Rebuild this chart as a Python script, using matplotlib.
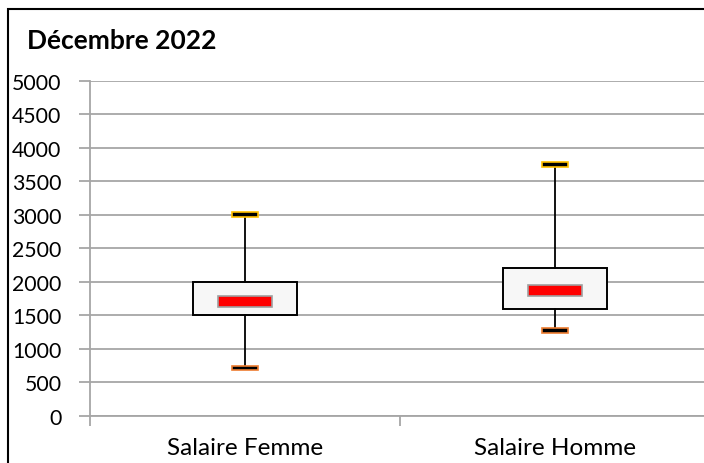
import numpy as np
import matplotlib.pyplot as plt
from matplotlib.patches import Rectangle

plt.rcParams['font.family'] = ['Lato', 'DejaVu Sans']

categories = ['Salaire Femme', 'Salaire Homme']
whislo = [710, 1275]
q1 = [1500, 1600]
med = [1700, 1865]
q3 = [2000, 2200]
whishi = [3000, 3750]
title = 'Décembre 2022'

fig = plt.figure(figsize=(7.04, 4.64), dpi=100)
W, H = 704, 464
ax = fig.add_axes([90 / W, 1 - 416.7 / H, 620 / W, 335 / H])

pos = np.arange(len(categories))
stats = [dict(whislo=a, q1=b, med=c, q3=d, whishi=e)
         for a, b, c, d, e in zip(whislo, q1, med, q3, whishi)]
ax.bxp(stats, positions=pos, widths=0.336, showcaps=False, showfliers=False,
       patch_artist=True,
       boxprops=dict(facecolor='#f7f7f7', edgecolor='black', linewidth=1.4),
       whiskerprops=dict(color='black', linewidth=1.3),
       medianprops=dict(linewidth=0), zorder=3)

# median markers (red bars) and whisker caps
ax.bar(pos, 160, bottom=np.array(med) - 80, width=0.174, color='#ff0000',
       edgecolor='#a0a0a0', linewidth=1.2, zorder=4)
ax.bar(pos, 70, bottom=np.array(whishi) - 35, width=0.087, color='black',
       edgecolor='#ffc000', linewidth=1.2, zorder=4)
ax.bar(pos, 70, bottom=np.array(whislo) - 35, width=0.087, color='black',
       edgecolor='#ed7d31', linewidth=1.2, zorder=4)

ax.set_xlim(-0.5, 1.5)
ax.set_ylim(0, 5000)
ax.set_yticks(np.arange(0, 5001, 500))
ax.set_yticklabels([str(v) for v in range(0, 5001, 500)], fontsize=15.3)
ax.yaxis.grid(True, color='#a6a6a6', linewidth=1.3)
ax.set_axisbelow(True)
ax.tick_params(axis='y', length=8, width=1.3, color='#a6a6a6', pad=12.5)

ax.set_xticks([-0.5, 0.5, 1.5])
ax.set_xticklabels([])
ax.set_xticks(pos, minor=True)
ax.set_xticklabels(categories, minor=True, fontsize=17.5)
ax.tick_params(axis='x', which='major', length=7, width=1.3, color='#a6a6a6')
ax.tick_params(axis='x', which='minor', length=0, pad=15)

for s in ['top', 'right']:
    ax.spines[s].set_visible(False)
ax.spines['left'].set_color('#a6a6a6')
ax.spines['left'].set_linewidth(1.3)
ax.spines['bottom'].set_color('#a6a6a6')
ax.spines['bottom'].set_linewidth(1.3)

fig.text(27 / W, 1 - 41 / H, title, fontsize=19, fontweight='bold', va='center')
fig.patches.append(Rectangle((8 / W, -0.1), 1.2, 1.1 - 10 / H, transform=fig.transFigure,
                             fill=False, edgecolor='black', linewidth=1.5))

fig.savefig('out.png', dpi=100)
